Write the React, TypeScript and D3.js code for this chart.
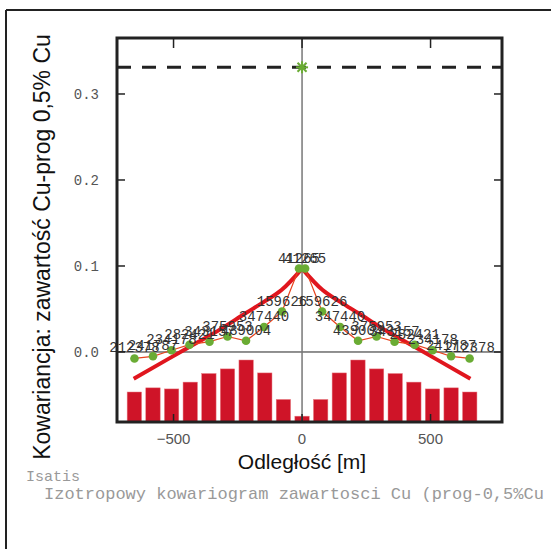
import React from "react";
import * as d3 from "d3";

// ---- data ----
const lagCentres = [0, 72.5, 145, 217.5, 290, 362.5, 435, 507.5, 580, 652.5];
const pairCounts = [41265, 159626, 347440, 439004, 375953, 343157, 282421, 234178, 241787, 212378];
const expDistances = [12, 78, 148, 218, 290, 360, 438, 508, 580, 652];
const expValues = [0.097, 0.047, 0.029, 0.013, 0.018, 0.012, 0.0085, 0.002, -0.005, -0.0075];
const modelDistances = [0, 80, 150, 220, 320, 420, 520, 655];
const modelValues = [0.097, 0.072, 0.058, 0.045, 0.026, 0.009, -0.008, -0.031];
const sill = 0.331;
const yTicks = [0.0, 0.1, 0.2, 0.3];
const xTicks = [-500, 0, 500];
const xTitle = "Odległość [m]";
const yTitle = "Kowariancja: zawartość Cu-prog 0,5% Cu";
const footer1 = "Isatis";
const footer2 = "Izotropowy kowariogram zawartosci Cu (prog-0,5%Cu";

const W = 551, H = 549;
const L = 117, R = 502, T = 38, B = 422;

export default function App() {
  const x = d3.scaleLinear().domain([-720, 778]).range([L, R]);
  const y = d3.scaleLinear().domain([-0.0814, 0.3651]).range([B, T]);
  const hScale = d3.scaleLinear().domain([0, 439004]).range([0, 62]);
  const barW = x(56) - x(0);

  const expPts: [number, number, number][] = [];
  for (let i = expDistances.length - 1; i >= 0; i--) expPts.push([-expDistances[i], expValues[i], pairCounts[i]]);
  for (let i = 0; i < expDistances.length; i++) expPts.push([expDistances[i], expValues[i], pairCounts[i]]);

  const lineGen = d3.line<[number, number, number]>().x(d => x(d[0])).y(d => y(d[1]));
  const modelRight = modelDistances.map((d, i) => [d, modelValues[i]] as [number, number]);
  const modelLeft = modelDistances.map((d, i) => [-d, modelValues[i]] as [number, number]).reverse();
  const mLine = d3.line<[number, number]>().x(d => x(d[0])).y(d => y(d[1])).curve(d3.curveMonotoneX);

  const bars: { c: number; n: number }[] = [];
  for (let i = lagCentres.length - 1; i >= 1; i--) bars.push({ c: -lagCentres[i], n: pairCounts[i] });
  bars.push({ c: 0, n: pairCounts[0] });
  for (let i = 1; i < lagCentres.length; i++) bars.push({ c: lagCentres[i], n: pairCounts[i] });

  const mono = "'Liberation Mono', 'DejaVu Sans Mono', monospace";
  const sans = "'Liberation Sans', Arial, sans-serif";
  const sx = x(0), sy = y(sill);

  return (
    <svg width={W} height={H} style={{ position: "absolute", left: 0, top: 0, background: "#fff" }}>
      {/* outer frame */}
      <line x1={6} y1={10} x2={W} y2={10} stroke="#222" strokeWidth={2} />
      <line x1={6} y1={10} x2={6} y2={H} stroke="#222" strokeWidth={2} />

      {/* bars */}
      {bars.map((b, i) => (
        <rect key={i} x={x(b.c) - barW / 2} y={B - hScale(b.n)} width={barW} height={hScale(b.n)}
          fill="#cf1428" stroke="#e87a80" strokeWidth={0.5} />
      ))}

      {/* zero line and vertical line */}
      <line x1={L} x2={R} y1={y(0)} y2={y(0)} stroke="#222" strokeWidth={1} />
      <line x1={x(0)} x2={x(0)} y1={T} y2={B} stroke="#777" strokeWidth={1.5} />

      {/* sill dashed line */}
      <line x1={L} x2={R} y1={y(sill)} y2={y(sill)} stroke="#222" strokeWidth={3} strokeDasharray="14,11" />

      {/* model */}
      <path d={mLine(modelLeft) || ""} fill="none" stroke="#e0161e" strokeWidth={4} />
      <path d={mLine(modelRight) || ""} fill="none" stroke="#e0161e" strokeWidth={4} />

      {/* experimental */}
      <path d={lineGen(expPts) || ""} fill="none" stroke="#e8431e" strokeWidth={1.2} />
      {expPts.map((p, i) => (
        <circle key={i} cx={x(p[0])} cy={y(p[1])} r={4.3} fill="#6aac34" />
      ))}
      {expPts.map((p, i) => (
        <text key={"t" + i} x={x(p[0])} y={y(p[1]) - 6} textAnchor="middle" fontFamily={mono} fontSize={14} fill="#333">
          {p[2]}
        </text>
      ))}

      {/* sill star */}
      <g stroke="#6aac34" strokeWidth={2}>
        <line x1={sx - 6} x2={sx + 6} y1={sy} y2={sy} />
        <line x1={sx} x2={sx} y1={sy - 6} y2={sy + 6} />
        <line x1={sx - 4.5} x2={sx + 4.5} y1={sy - 4.5} y2={sy + 4.5} />
        <line x1={sx - 4.5} x2={sx + 4.5} y1={sy + 4.5} y2={sy - 4.5} />
      </g>

      {/* frame */}
      <rect x={L} y={T} width={R - L} height={B - T} fill="none" stroke="#222" strokeWidth={3} />

      {/* y ticks */}
      {yTicks.map((t, i) => (
        <g key={i}>
          <line x1={L} x2={L + 8} y1={y(t)} y2={y(t)} stroke="#222" strokeWidth={1.5} />
          <line x1={R - 8} x2={R} y1={y(t)} y2={y(t)} stroke="#222" strokeWidth={1.5} />
          <text x={99} y={y(t)} dy="0.35em" textAnchor="end" fontFamily={mono} fontSize={14} fill="#555">
            {d3.format(".1f")(t)}
          </text>
        </g>
      ))}

      {/* x ticks */}
      {xTicks.map((t, i) => (
        <g key={i}>
          <line x1={x(t)} x2={x(t)} y1={T} y2={T + 10} stroke="#222" strokeWidth={1.5} />
          <line x1={x(t)} x2={x(t)} y1={B} y2={B - 8} stroke="#222" strokeWidth={1.5} />
          <text x={x(t)} y={444} textAnchor="middle" fontFamily={sans} fontSize={15} fill="#555">
            {t < 0 ? "\u2212" + Math.abs(t) : t}
          </text>
        </g>
      ))}

      {/* titles */}
      <text x={302} y={469} textAnchor="middle" fontFamily={sans} fontSize={21} fill="#111">{xTitle}</text>
      <text transform={`translate(50, 247) rotate(-90)`} textAnchor="middle" fontFamily={sans} fontSize={23} fill="#111">{yTitle}</text>

      {/* footer */}
      <text x={26} y={481} fontFamily={mono} fontSize={15} fill="#999">{footer1}</text>
      <text x={44} y={499} fontFamily={mono} fontSize={17} fill="#999">{footer2}</text>
    </svg>
  );
}
